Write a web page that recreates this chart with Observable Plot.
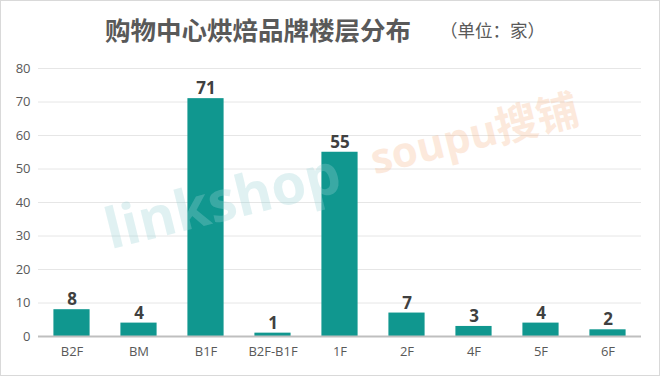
<!DOCTYPE html>
<html><head><meta charset="utf-8">
<script src="https://cdn.jsdelivr.net/npm/d3@7"></script>
<script src="https://cdn.jsdelivr.net/npm/@observablehq/plot@0.6"></script>
<style>
html,body{margin:0;padding:0;background:#fff;}
#wrap{position:relative;width:658px;height:374px;border:1px solid #d9d9d9;overflow:hidden;font-family:"Noto Sans CJK SC","Open Sans",sans-serif;}
#title{position:absolute;left:0;top:9px;width:100%;height:40px;}
#title .t{position:absolute;left:104px;top:0;font-size:25.5px;font-weight:bold;color:#595959;}
#title .u{position:absolute;left:439px;top:7px;font-size:17.5px;color:#595959;}
#chart{position:absolute;left:0;top:59px;}
.wm{position:absolute;pointer-events:none;}
</style></head><body>
<div id="wrap">
<div id="title"><span class="t">购物中心烘焙品牌楼层分布</span><span class="u">（单位：家）</span></div>
<div id="chart"></div>
<div class="wm" style="left:95px;top:190px;font-family:'Open Sans',sans-serif;font-size:56px;font-weight:bold;color:#9ad3d6;opacity:0.3;transform:rotate(-14deg);transform-origin:left top;">linkshop</div>
<div class="wm" style="left:362px;top:126px;font-family:'Open Sans',sans-serif;font-size:42px;font-weight:bold;color:#f6b88d;opacity:0.3;transform:rotate(-14deg);transform-origin:left top;">soupu<span style="font-family:'Noto Sans CJK SC';">搜铺</span></div>
</div>
<script>
const floors = ["B2F","BM","B1F","B2F-B1F","1F","2F","4F","5F","6F"];
const counts = [8,4,71,1,55,7,3,4,2];
const yTicks = [0,10,20,30,40,50,60,70,80];
const data = floors.map((f,i)=>({floor:f,count:counts[i]}));

const chart = Plot.plot({
  width: 658,
  height: 316,
  marginLeft: 37,
  marginRight: 18,
  marginTop: 8,
  marginBottom: 40,
  style: {fontFamily: "'Open Sans', sans-serif", fontSize: "13px", color: "#595959", background: "transparent"},
  x: {domain: floors, paddingInner: 0.46, paddingOuter: 0.23, round: false, label: null, tickSize: 0, tickPadding: 10},
  y: {domain: [0,80], ticks: yTicks, label: null, tickSize: 0, tickPadding: 8},
  marks: [
    Plot.gridY(yTicks.filter(d=>d>0), {stroke: "#e6e6e6", strokeOpacity: 1, strokeWidth: 1}),
    Plot.barY(data, {x: "floor", y: "count", fill: "#10978f"}),
    Plot.ruleY([0], {stroke: "#bfbfbf", strokeWidth: 2}),
    Plot.text(data, {x: "floor", y: "count", text: d=>String(d.count), dy: -10, fontSize: 17, fontWeight: "bold", fill: "#404040"})
  ]
});
document.getElementById("chart").appendChild(chart);
</script>
</body></html>
